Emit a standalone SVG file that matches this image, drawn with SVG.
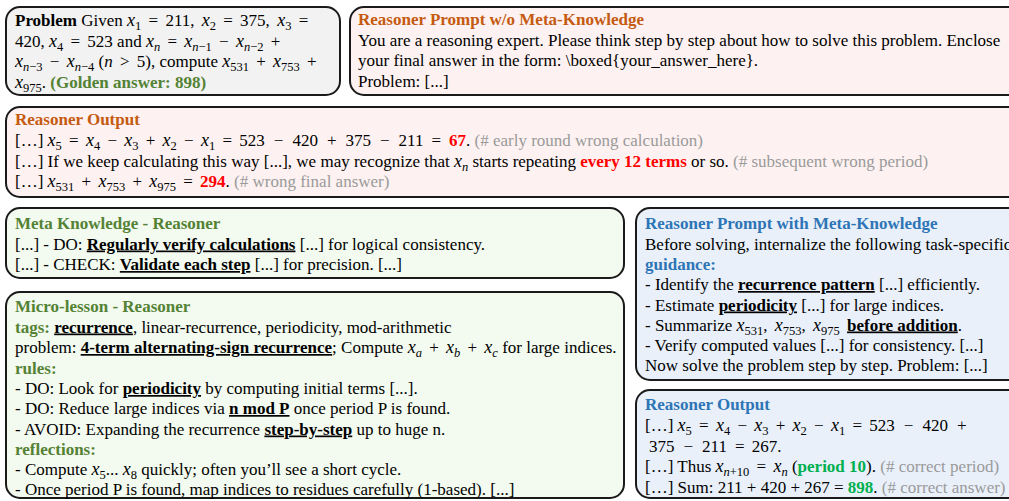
<svg xmlns="http://www.w3.org/2000/svg" width="1009" height="501" viewBox="0 0 1009 501">
<style>
text{font-family:"Liberation Serif","Times New Roman",serif;font-size:17px;fill:#000}
.box{stroke:#1a1a1a;stroke-width:2}
.gray{fill:#f2f2f2}.pink{fill:#fdf2f1}.green{fill:#f3faef}.blue{fill:#e9f0fa}
.b{font-weight:bold}
.m{font-style:italic}
.x{font-style:italic;font-size:18px}
.s{font-size:12.5px}
.w{word-spacing:3px}
.u{font-weight:bold;text-decoration:underline}
.or{fill:#c55a11;font-weight:bold}
.gr{fill:#548235;font-weight:bold}
.bl{fill:#2e75b6;font-weight:bold}
.red{fill:#ff0000;font-weight:bold}
.ok{fill:#00b050;font-weight:bold}
.cm{fill:#9a9a9a}
</style>
<g id="connectors"></g>

<g id="problem">
<rect class="box gray" x="6" y="7" width="334" height="88" rx="14"/>
<text x="15" y="26"><tspan class="b">Problem</tspan> Given <tspan class="x">x</tspan><tspan class="s" dy="4">1</tspan><tspan class="w" dy="-4"> = 211, </tspan><tspan class="x">x</tspan><tspan class="s" dy="4">2</tspan><tspan class="w" dy="-4"> = 375, </tspan><tspan class="x">x</tspan><tspan class="s" dy="4">3</tspan><tspan class="w" dy="-4"> =</tspan></text>
<text x="15" y="46.5">420, <tspan class="x">x</tspan><tspan class="s" dy="4">4</tspan><tspan class="w" dy="-4"> = 523</tspan> and <tspan class="x">x</tspan><tspan class="s m" dy="4">n</tspan><tspan class="w" dy="-4"> = </tspan><tspan class="x">x</tspan><tspan class="s" dy="4"><tspan class="m">n</tspan>−1</tspan><tspan class="w" dy="-4"> − </tspan><tspan class="x">x</tspan><tspan class="s" dy="4"><tspan class="m">n</tspan>−2</tspan><tspan class="w" dy="-4"> +</tspan></text>
<text x="15" y="67"><tspan class="x">x</tspan><tspan class="s" dy="4"><tspan class="m">n</tspan>−3</tspan><tspan class="w" dy="-4"> − </tspan><tspan class="x">x</tspan><tspan class="s" dy="4"><tspan class="m">n</tspan>−4</tspan><tspan dy="-4"> (</tspan><tspan class="m">n</tspan><tspan class="w"> &gt; 5</tspan>), compute <tspan class="x">x</tspan><tspan class="s" dy="4">531</tspan><tspan class="w" dy="-4"> + </tspan><tspan class="x">x</tspan><tspan class="s" dy="4">753</tspan><tspan class="w" dy="-4"> +</tspan></text>
<text x="15" y="87.5"><tspan class="x">x</tspan><tspan class="s" dy="4">975</tspan><tspan dy="-4">. </tspan><tspan class="gr">(Golden answer: 898)</tspan></text>
</g>

<g id="prompt-wo">
<rect class="box pink" x="350" y="7" width="700" height="88" rx="14"/>
<text x="358" y="25" class="or">Reasoner Prompt w/o Meta-Knowledge</text>
<text x="358" y="45.5">You are a reasoning expert. Please think step by step about how to solve this problem. Enclose</text>
<text x="358" y="66">your final answer in the form: \boxed{your_answer_here}.</text>
<text x="358" y="86.5">Problem: [...]</text>
</g>

<g id="output-wrong">
<rect class="box pink" x="6" y="107" width="1040" height="90" rx="14"/>
<text x="15" y="125" class="or">Reasoner Output</text>
<text x="15" y="146">[…] <tspan class="x">x</tspan><tspan class="s" dy="4">5</tspan><tspan class="w" dy="-4"> = </tspan><tspan class="x">x</tspan><tspan class="s" dy="4">4</tspan><tspan class="w" dy="-4"> − </tspan><tspan class="x">x</tspan><tspan class="s" dy="4">3</tspan><tspan class="w" dy="-4"> + </tspan><tspan class="x">x</tspan><tspan class="s" dy="4">2</tspan><tspan class="w" dy="-4"> − </tspan><tspan class="x">x</tspan><tspan class="s" dy="4">1</tspan><tspan class="w" dy="-4"> = 523</tspan><tspan dx="9">−</tspan><tspan dx="9">420</tspan><tspan dx="9">+</tspan><tspan dx="9">375</tspan><tspan dx="9">−</tspan><tspan dx="9">211</tspan><tspan dx="8">=</tspan><tspan dx="8" class="red">67</tspan>. <tspan class="cm">(# early round wrong calculation)</tspan></text>
<text x="15" y="166.5">[…] If we keep calculating this way [...], we may recognize that <tspan class="x">x</tspan><tspan class="s m" dy="4">n</tspan><tspan dy="-4"> starts repeating </tspan><tspan class="red">every 12 terms</tspan> or so. <tspan class="cm">(# subsequent wrong period)</tspan></text>
<text x="15" y="187">[…] <tspan class="x">x</tspan><tspan class="s" dy="4">531</tspan><tspan class="w" dy="-4"> + </tspan><tspan class="x">x</tspan><tspan class="s" dy="4">753</tspan><tspan class="w" dy="-4"> + </tspan><tspan class="x">x</tspan><tspan class="s" dy="4">975</tspan><tspan class="w" dy="-4"> = </tspan><tspan class="red">294</tspan>. <tspan class="cm">(# wrong final answer)</tspan></text>
</g>

<g id="meta-knowledge">
<rect class="box green" x="6" y="208" width="618" height="70" rx="14"/>
<text x="15" y="229" class="gr">Meta Knowledge - Reasoner</text>
<text x="15" y="249.5">[...] - DO: <tspan class="u">Regularly verify calculations</tspan> [...] for logical consistency.</text>
<text x="15" y="270">[...] - CHECK: <tspan class="u">Validate each step</tspan> [...] for precision. [...]</text>
</g>

<g id="micro-lesson">
<rect class="box green" x="6" y="292" width="618" height="206" rx="14"/>
<text x="15" y="312" class="gr">Micro-lesson - Reasoner</text>
<text x="15" y="332.5"><tspan class="gr">tags:</tspan> <tspan class="u">recurrence</tspan>, linear-recurrence, periodicity, mod-arithmetic</text>
<text x="15" y="353">problem: <tspan class="u">4-term alternating-sign recurrence</tspan>; Compute <tspan class="x">x</tspan><tspan class="s m" dy="4">a</tspan><tspan class="w" dy="-4"> + </tspan><tspan class="x">x</tspan><tspan class="s m" dy="4">b</tspan><tspan class="w" dy="-4"> + </tspan><tspan class="x">x</tspan><tspan class="s m" dy="4">c</tspan><tspan dy="-4"> for large indices.</tspan></text>
<text x="15" y="373.5" class="gr">rules:</text>
<text x="15" y="394">- DO: Look for <tspan class="u">periodicity</tspan> by computing initial terms [...].</text>
<text x="15" y="414">- DO: Reduce large indices via <tspan class="u">n mod P</tspan> once period P is found.</text>
<text x="15" y="434.5">- AVOID: Expanding the recurrence <tspan class="u">step-by-step</tspan> up to huge n.</text>
<text x="15" y="454.5" class="gr">reflections:</text>
<text x="15" y="474.5">- Compute <tspan class="x">x</tspan><tspan class="s" dy="4">5</tspan><tspan dy="-4">... </tspan><tspan class="x">x</tspan><tspan class="s" dy="4">8</tspan><tspan dy="-4"> quickly; often you’ll see a short cycle.</tspan></text>
<text x="15" y="494.5">- Once period P is found, map indices to residues carefully (1-based). [...]</text>
</g>

<g id="prompt-with">
<rect class="box blue" x="636" y="208" width="420" height="172" rx="14"/>
<text x="645" y="229" class="bl">Reasoner Prompt with Meta-Knowledge</text>
<text x="645" y="249.5">Before solving, internalize the following task-specific</text>
<text x="645" y="270" class="bl">guidance:</text>
<text x="645" y="290">- Identify the <tspan class="u">recurrence pattern</tspan> [...] efficiently.</text>
<text x="645" y="310.5">- Estimate <tspan class="u">periodicity</tspan> [...] for large indices.</text>
<text x="645" y="330.5">- Summarize <tspan class="x">x</tspan><tspan class="s" dy="4">531</tspan><tspan class="w" dy="-4">, </tspan><tspan class="x">x</tspan><tspan class="s" dy="4">753</tspan><tspan class="w" dy="-4">, </tspan><tspan class="x">x</tspan><tspan class="s" dy="4">975</tspan><tspan class="w" dy="-4"> </tspan><tspan class="u">before addition</tspan>.</text>
<text x="645" y="351">- Verify computed values [...] for consistency. [...]</text>
<text x="645" y="371">Now solve the problem step by step. Problem: [...]</text>
</g>

<g id="output-correct">
<rect class="box blue" x="636" y="390" width="420" height="108" rx="14"/>
<text x="645" y="410" class="bl">Reasoner Output</text>
<text x="645" y="431">[…] <tspan class="x">x</tspan><tspan class="s" dy="4">5</tspan><tspan class="w" dy="-4"> = </tspan><tspan class="x">x</tspan><tspan class="s" dy="4">4</tspan><tspan class="w" dy="-4"> − </tspan><tspan class="x">x</tspan><tspan class="s" dy="4">3</tspan><tspan class="w" dy="-4"> + </tspan><tspan class="x">x</tspan><tspan class="s" dy="4">2</tspan><tspan class="w" dy="-4"> − </tspan><tspan class="x">x</tspan><tspan class="s" dy="4">1</tspan><tspan class="w" dy="-4"> = 523</tspan><tspan dx="9">−</tspan><tspan dx="9">420</tspan><tspan dx="9">+</tspan></text>
<text x="649" y="451.5">375<tspan dx="9">−</tspan><tspan dx="9">211</tspan><tspan dx="8" class="w">= 267.</tspan></text>
<text x="645" y="472">[…] Thus <tspan class="x">x</tspan><tspan class="s" dy="4"><tspan class="m">n</tspan>+10</tspan><tspan class="w" dy="-4"> = </tspan><tspan class="x">x</tspan><tspan class="s m" dy="4">n</tspan><tspan dy="-4"> (</tspan><tspan class="ok">period 10</tspan>). <tspan class="cm">(# correct period)</tspan></text>
<text x="645" y="492.5">[…] Sum: 211 + 420 + 267 = <tspan class="ok">898</tspan>. <tspan class="cm">(# correct answer)</tspan></text>
</g>
</svg>
